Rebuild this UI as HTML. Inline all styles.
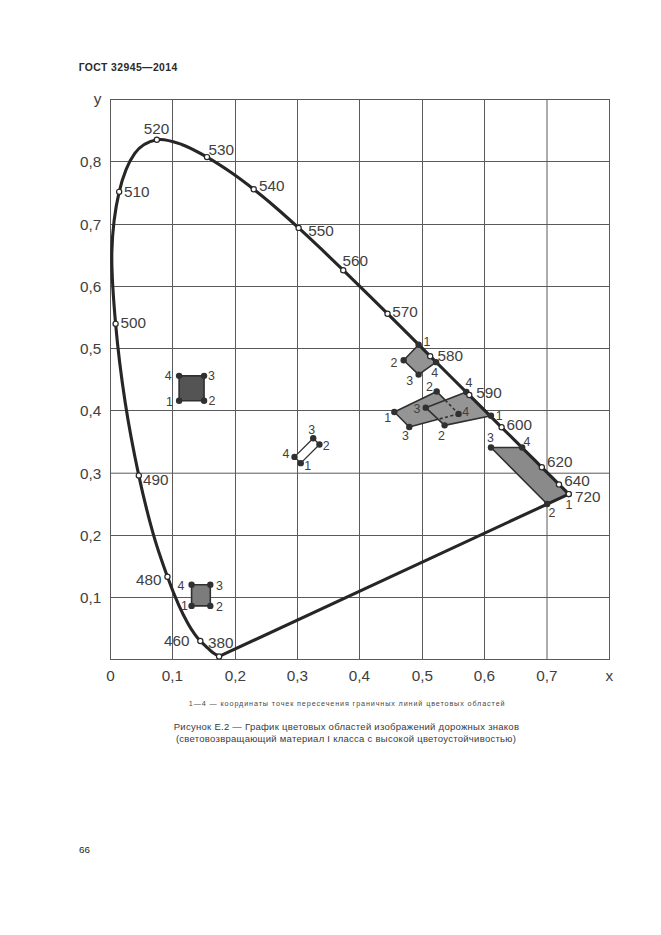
<!DOCTYPE html>
<html><head><meta charset="utf-8"><style>
html,body{margin:0;padding:0;background:#fff;width:661px;height:935px;overflow:hidden}
svg{position:absolute;left:0;top:0}
</style></head><body>
<svg width="661" height="935" viewBox="0 0 661 935">
<text x="78.7" y="71.2" font-family="Liberation Sans, sans-serif" font-weight="bold" font-size="10.4" letter-spacing="0.42" fill="#2a2a2a">ГОСТ 32945—2014</text>
<g stroke="#5a5a5a" stroke-width="1"><line x1="172.5" y1="99.5" x2="172.5" y2="659.5" /><line x1="235.5" y1="99.5" x2="235.5" y2="659.5" /><line x1="297.5" y1="99.5" x2="297.5" y2="659.5" /><line x1="359.5" y1="99.5" x2="359.5" y2="659.5" /><line x1="422.5" y1="99.5" x2="422.5" y2="659.5" /><line x1="484.5" y1="99.5" x2="484.5" y2="659.5" /><line x1="547.0" y1="99.5" x2="547.0" y2="659.5" /><line x1="110.5" y1="161.5" x2="609.5" y2="161.5" /><line x1="110.5" y1="224.5" x2="609.5" y2="224.5" /><line x1="110.5" y1="286.5" x2="609.5" y2="286.5" /><line x1="110.5" y1="348.5" x2="609.5" y2="348.5" /><line x1="110.5" y1="410.5" x2="609.5" y2="410.5" /><line x1="110.5" y1="473.2" x2="609.5" y2="473.2" /><line x1="110.5" y1="535.5" x2="609.5" y2="535.5" /><line x1="110.5" y1="597.5" x2="609.5" y2="597.5" /></g>
<rect x="110.5" y="99.5" width="499" height="560" fill="none" stroke="#5a5a5a" stroke-width="1"/>
<polygon points="179.11,400.79 204.06,400.79 204.06,375.85 179.11,375.85" fill="#545454" stroke="#303030" stroke-width="1.6" stroke-linejoin="round" /><polygon points="191.59,605.89 210.30,605.89 210.30,584.69 191.59,584.69" fill="#7c7c7c" stroke="#303030" stroke-width="1.6" stroke-linejoin="round" /><polygon points="300.74,463.13 319.46,444.43 313.22,438.19 294.51,456.89" fill="#ffffff" stroke="#303030" stroke-width="1.3" stroke-linejoin="round" /><polygon points="418.63,344.68 403.66,360.27 418.63,374.61 436.10,362.14" fill="#939393" stroke="#303030" stroke-width="1.6" stroke-linejoin="round" /><polygon points="394.31,412.01 436.72,391.44 458.55,413.88 409.28,426.97" fill="#959595" stroke="none" stroke-width="0" stroke-linejoin="round" /><polygon points="490.99,415.75 444.58,425.35 425.74,407.65 466.35,392.06" fill="#959595" stroke="none" stroke-width="0" stroke-linejoin="round" /><line x1="394.31" y1="412.01" x2="436.72" y2="391.44" stroke="#303030" stroke-width="1.6"/><line x1="436.72" y1="391.44" x2="445.22" y2="400.17" stroke="#303030" stroke-width="1.6"/><line x1="445.22" y1="400.17" x2="458.55" y2="413.88" stroke="#303030" stroke-width="1.6" stroke-dasharray="3,2.5"/><line x1="458.55" y1="413.88" x2="438.14" y2="419.30" stroke="#303030" stroke-width="1.6" stroke-dasharray="3,2.5"/><line x1="438.14" y1="419.30" x2="409.28" y2="426.97" stroke="#303030" stroke-width="1.6"/><line x1="409.28" y1="426.97" x2="394.31" y2="412.01" stroke="#303030" stroke-width="1.6"/><line x1="490.99" y1="415.75" x2="444.58" y2="425.35" stroke="#303030" stroke-width="1.6"/><line x1="444.58" y1="425.35" x2="425.74" y2="407.65" stroke="#303030" stroke-width="1.6"/><line x1="425.74" y1="407.65" x2="466.35" y2="392.06" stroke="#303030" stroke-width="1.6"/><line x1="466.35" y1="392.06" x2="490.99" y2="415.75" stroke="#303030" stroke-width="1.6"/><polygon points="568.77,494.11 547.12,503.96 490.99,447.54 522.17,447.54" fill="#8a8a8a" stroke="#303030" stroke-width="1.6" stroke-linejoin="round" />
<path d="M219.09,656.38 C218.09,655.77 214.86,654.02 213.04,652.70 C211.23,651.39 210.30,650.42 208.18,648.47 C206.06,646.51 202.51,643.29 200.32,640.99 C198.13,638.68 197.09,637.55 195.02,634.63 C192.95,631.71 190.60,628.34 187.91,623.47 C185.21,618.59 182.27,613.17 178.86,605.39 C175.45,597.61 171.70,588.61 167.45,576.77 C163.20,564.94 158.12,551.25 153.35,534.38 C148.58,517.52 143.52,497.62 138.82,475.60 C134.12,453.57 129.03,427.51 125.16,402.22 C121.29,376.93 117.83,349.02 115.61,323.86 C113.40,298.71 111.28,273.30 111.87,251.30 C112.46,229.29 115.35,208.16 119.17,191.83 C122.99,175.49 128.48,161.99 134.76,153.30 C141.04,144.61 149.02,141.18 156.84,139.71 C164.67,138.23 173.37,141.55 181.73,144.45 C190.09,147.35 198.81,152.47 206.99,157.10 C215.18,161.74 223.03,166.89 230.82,172.25 C238.61,177.61 246.13,183.32 253.71,189.27 C261.29,195.22 268.81,201.53 276.29,207.97 C283.78,214.41 291.19,221.13 298.62,227.92 C306.06,234.72 313.46,241.70 320.89,248.74 C328.32,255.79 335.80,262.99 343.22,270.19 C350.64,277.39 358.05,284.69 365.43,291.94 C372.81,299.20 380.22,306.49 387.51,313.70 C394.79,320.91 402.04,328.13 409.15,335.21 C416.26,342.28 423.31,349.32 430.17,356.15 C437.03,362.99 443.80,369.74 450.32,376.23 C456.84,382.71 463.24,389.04 469.28,395.05 C475.32,401.07 481.17,406.95 486.56,412.32 C491.94,417.69 496.88,422.60 501.59,427.28 C506.30,431.97 510.78,436.44 514.81,440.44 C518.85,444.44 522.48,447.99 525.79,451.28 C529.11,454.58 532.04,457.53 534.71,460.20 C537.38,462.87 539.69,465.19 541.82,467.31 C543.95,469.43 545.79,471.22 547.50,472.92 C549.20,474.61 550.14,475.56 552.05,477.47 C553.97,479.38 557.09,482.52 558.98,484.39 C560.86,486.26 562.20,487.56 563.34,488.69 C564.49,489.82 564.93,490.28 565.84,491.18 C566.74,492.09 568.28,493.62 568.77,494.11" fill="none" stroke="#262626" stroke-width="3.1" stroke-linejoin="round"/>
<line x1="219.09" y1="656.38" x2="568.77" y2="494.11" stroke="#262626" stroke-width="3.1"/>
<circle cx="179.11" cy="400.79" r="3.2" fill="#303030"/><circle cx="204.06" cy="400.79" r="3.2" fill="#303030"/><circle cx="204.06" cy="375.85" r="3.2" fill="#303030"/><circle cx="179.11" cy="375.85" r="3.2" fill="#303030"/><circle cx="191.59" cy="605.89" r="3.2" fill="#303030"/><circle cx="210.30" cy="605.89" r="3.2" fill="#303030"/><circle cx="210.30" cy="584.69" r="3.2" fill="#303030"/><circle cx="191.59" cy="584.69" r="3.2" fill="#303030"/><circle cx="300.74" cy="463.13" r="3.2" fill="#303030"/><circle cx="319.46" cy="444.43" r="3.2" fill="#303030"/><circle cx="313.22" cy="438.19" r="3.2" fill="#303030"/><circle cx="294.51" cy="456.89" r="3.2" fill="#303030"/><circle cx="418.63" cy="344.68" r="3.2" fill="#303030"/><circle cx="403.66" cy="360.27" r="3.2" fill="#303030"/><circle cx="418.63" cy="374.61" r="3.2" fill="#303030"/><circle cx="436.10" cy="362.14" r="3.2" fill="#303030"/><circle cx="394.31" cy="412.01" r="3.2" fill="#303030"/><circle cx="436.72" cy="391.44" r="3.2" fill="#303030"/><circle cx="458.55" cy="413.88" r="3.2" fill="#303030"/><circle cx="409.28" cy="426.97" r="3.2" fill="#303030"/><circle cx="490.99" cy="415.75" r="3.2" fill="#303030"/><circle cx="444.58" cy="425.35" r="3.2" fill="#303030"/><circle cx="425.74" cy="407.65" r="3.2" fill="#303030"/><circle cx="466.35" cy="392.06" r="3.2" fill="#303030"/><circle cx="568.77" cy="494.11" r="3.2" fill="#303030"/><circle cx="547.12" cy="503.96" r="3.2" fill="#303030"/><circle cx="490.99" cy="447.54" r="3.2" fill="#303030"/><circle cx="522.17" cy="447.54" r="3.2" fill="#303030"/>
<circle cx="219.09" cy="656.38" r="2.6" fill="#fff" stroke="#262626" stroke-width="1.2"/><circle cx="200.32" cy="640.99" r="2.6" fill="#fff" stroke="#262626" stroke-width="1.2"/><circle cx="167.45" cy="576.77" r="2.6" fill="#fff" stroke="#262626" stroke-width="1.2"/><circle cx="138.82" cy="475.60" r="2.6" fill="#fff" stroke="#262626" stroke-width="1.2"/><circle cx="115.61" cy="323.86" r="2.6" fill="#fff" stroke="#262626" stroke-width="1.2"/><circle cx="119.17" cy="191.83" r="2.6" fill="#fff" stroke="#262626" stroke-width="1.2"/><circle cx="156.84" cy="139.71" r="2.6" fill="#fff" stroke="#262626" stroke-width="1.2"/><circle cx="206.99" cy="157.10" r="2.6" fill="#fff" stroke="#262626" stroke-width="1.2"/><circle cx="253.71" cy="189.27" r="2.6" fill="#fff" stroke="#262626" stroke-width="1.2"/><circle cx="298.62" cy="227.92" r="2.6" fill="#fff" stroke="#262626" stroke-width="1.2"/><circle cx="343.22" cy="270.19" r="2.6" fill="#fff" stroke="#262626" stroke-width="1.2"/><circle cx="387.51" cy="313.70" r="2.6" fill="#fff" stroke="#262626" stroke-width="1.2"/><circle cx="430.17" cy="356.15" r="2.6" fill="#fff" stroke="#262626" stroke-width="1.2"/><circle cx="469.28" cy="395.05" r="2.6" fill="#fff" stroke="#262626" stroke-width="1.2"/><circle cx="501.59" cy="427.28" r="2.6" fill="#fff" stroke="#262626" stroke-width="1.2"/><circle cx="541.82" cy="467.31" r="2.6" fill="#fff" stroke="#262626" stroke-width="1.2"/><circle cx="558.98" cy="484.39" r="2.6" fill="#fff" stroke="#262626" stroke-width="1.2"/><circle cx="568.77" cy="494.11" r="2.6" fill="#fff" stroke="#262626" stroke-width="1.2"/>
<g font-family="Liberation Sans, sans-serif" fill="#404040"><text x="143.7" y="133.8" font-size="15.3" text-anchor="start">520</text><text x="124.1" y="196.8" font-size="15.3" text-anchor="start">510</text><text x="208.5" y="155.4" font-size="15.3" text-anchor="start">530</text><text x="259.1" y="191.1" font-size="15.3" text-anchor="start">540</text><text x="308.2" y="236.1" font-size="15.3" text-anchor="start">550</text><text x="342.6" y="266.2" font-size="15.3" text-anchor="start">560</text><text x="392.2" y="316.5" font-size="15.3" text-anchor="start">570</text><text x="437.4" y="360.9" font-size="15.3" text-anchor="start">580</text><text x="476.2" y="398.0" font-size="15.3" text-anchor="start">590</text><text x="506.4" y="430.4" font-size="15.3" text-anchor="start">600</text><text x="547.0" y="466.6" font-size="15.3" text-anchor="start">620</text><text x="564.2" y="485.7" font-size="15.3" text-anchor="start">640</text><text x="575.1" y="502.0" font-size="15.3" text-anchor="start">720</text><text x="120.6" y="328.2" font-size="15.3" text-anchor="start">500</text><text x="143.1" y="485.0" font-size="15.3" text-anchor="start">490</text><text x="136.0" y="584.8" font-size="15.3" text-anchor="start">480</text><text x="164.1" y="646.3" font-size="15.3" text-anchor="start">460</text><text x="208.0" y="648.0" font-size="15.3" text-anchor="start">380</text><text x="164.7" y="380.4" font-size="12.4" text-anchor="start">4</text><text x="208.1" y="379.5" font-size="12.4" text-anchor="start">3</text><text x="166.1" y="406.3" font-size="12.4" text-anchor="start">1</text><text x="208.6" y="405.4" font-size="12.4" text-anchor="start">2</text><text x="308.3" y="433.7" font-size="12.4" text-anchor="start">3</text><text x="322.7" y="449.6" font-size="12.4" text-anchor="start">2</text><text x="282.5" y="457.5" font-size="12.4" text-anchor="start">4</text><text x="304.3" y="470.4" font-size="12.4" text-anchor="start">1</text><text x="423.4" y="345.7" font-size="12.4" text-anchor="start">1</text><text x="390.5" y="367.0" font-size="12.4" text-anchor="start">2</text><text x="406.3" y="384.7" font-size="12.4" text-anchor="start">3</text><text x="431.3" y="376.6" font-size="12.4" text-anchor="start">4</text><text x="384.3" y="421.7" font-size="12.4" text-anchor="start">1</text><text x="426.0" y="391.2" font-size="12.4" text-anchor="start">2</text><text x="401.9" y="440.0" font-size="12.4" text-anchor="start">3</text><text x="462.3" y="416.1" font-size="12.4" text-anchor="start">4</text><text x="495.7" y="420.4" font-size="12.4" text-anchor="start">1</text><text x="438.1" y="440.0" font-size="12.4" text-anchor="start">2</text><text x="413.5" y="412.5" font-size="12.4" text-anchor="start">3</text><text x="465.4" y="387.4" font-size="12.4" text-anchor="start">4</text><text x="487.0" y="441.6" font-size="12.4" text-anchor="start">3</text><text x="523.5" y="445.7" font-size="12.4" text-anchor="start">4</text><text x="565.5" y="508.7" font-size="12.4" text-anchor="start">1</text><text x="548.6" y="516.6" font-size="12.4" text-anchor="start">2</text><text x="177.4" y="589.5" font-size="12.4" text-anchor="start">4</text><text x="216.1" y="589.5" font-size="12.4" text-anchor="start">3</text><text x="181.1" y="609.5" font-size="12.4" text-anchor="start">1</text><text x="216.1" y="611.3" font-size="12.4" text-anchor="start">2</text><text x="110.5" y="680.9" font-size="15.3" text-anchor="middle">0</text><text x="172.5" y="680.9" font-size="15.3" text-anchor="middle">0,1</text><text x="235.5" y="680.9" font-size="15.3" text-anchor="middle">0,2</text><text x="297.5" y="680.9" font-size="15.3" text-anchor="middle">0,3</text><text x="359.5" y="680.9" font-size="15.3" text-anchor="middle">0,4</text><text x="422.5" y="680.9" font-size="15.3" text-anchor="middle">0,5</text><text x="484.5" y="680.9" font-size="15.3" text-anchor="middle">0,6</text><text x="547.0" y="680.9" font-size="15.3" text-anchor="middle">0,7</text><text x="609.3" y="680.9" font-size="15.3" text-anchor="middle">x</text><text x="101.3" y="602.8" font-size="15.3" text-anchor="end">0,1</text><text x="101.3" y="540.8" font-size="15.3" text-anchor="end">0,2</text><text x="101.3" y="478.5" font-size="15.3" text-anchor="end">0,3</text><text x="101.3" y="415.8" font-size="15.3" text-anchor="end">0,4</text><text x="101.3" y="353.8" font-size="15.3" text-anchor="end">0,5</text><text x="101.3" y="291.8" font-size="15.3" text-anchor="end">0,6</text><text x="101.3" y="229.8" font-size="15.3" text-anchor="end">0,7</text><text x="101.3" y="166.8" font-size="15.3" text-anchor="end">0,8</text><text x="101.3" y="104.2" font-size="15.3" text-anchor="end">y</text></g>
<text x="188.8" y="705.6" font-family="Liberation Sans, sans-serif" font-size="7.2" letter-spacing="0.89" fill="#484848">1—4 — координаты точек пересечения граничных линий цветовых областей</text>
<text x="346.5" y="730" text-anchor="middle" font-family="Liberation Sans, sans-serif" font-size="9.5" letter-spacing="0.27" fill="#3a3a3a">Рисунок Е.2 — График цветовых областей изображений дорожных знаков</text>
<text x="346" y="741.7" text-anchor="middle" font-family="Liberation Sans, sans-serif" font-size="9.5" letter-spacing="0.27" fill="#3a3a3a">(световозвращающий материал I класса с высокой цветоустойчивостью)</text>
<text x="79" y="852.9" font-family="Liberation Sans, sans-serif" font-size="9.8" letter-spacing="0" fill="#222">66</text>
</svg>
</body></html>
